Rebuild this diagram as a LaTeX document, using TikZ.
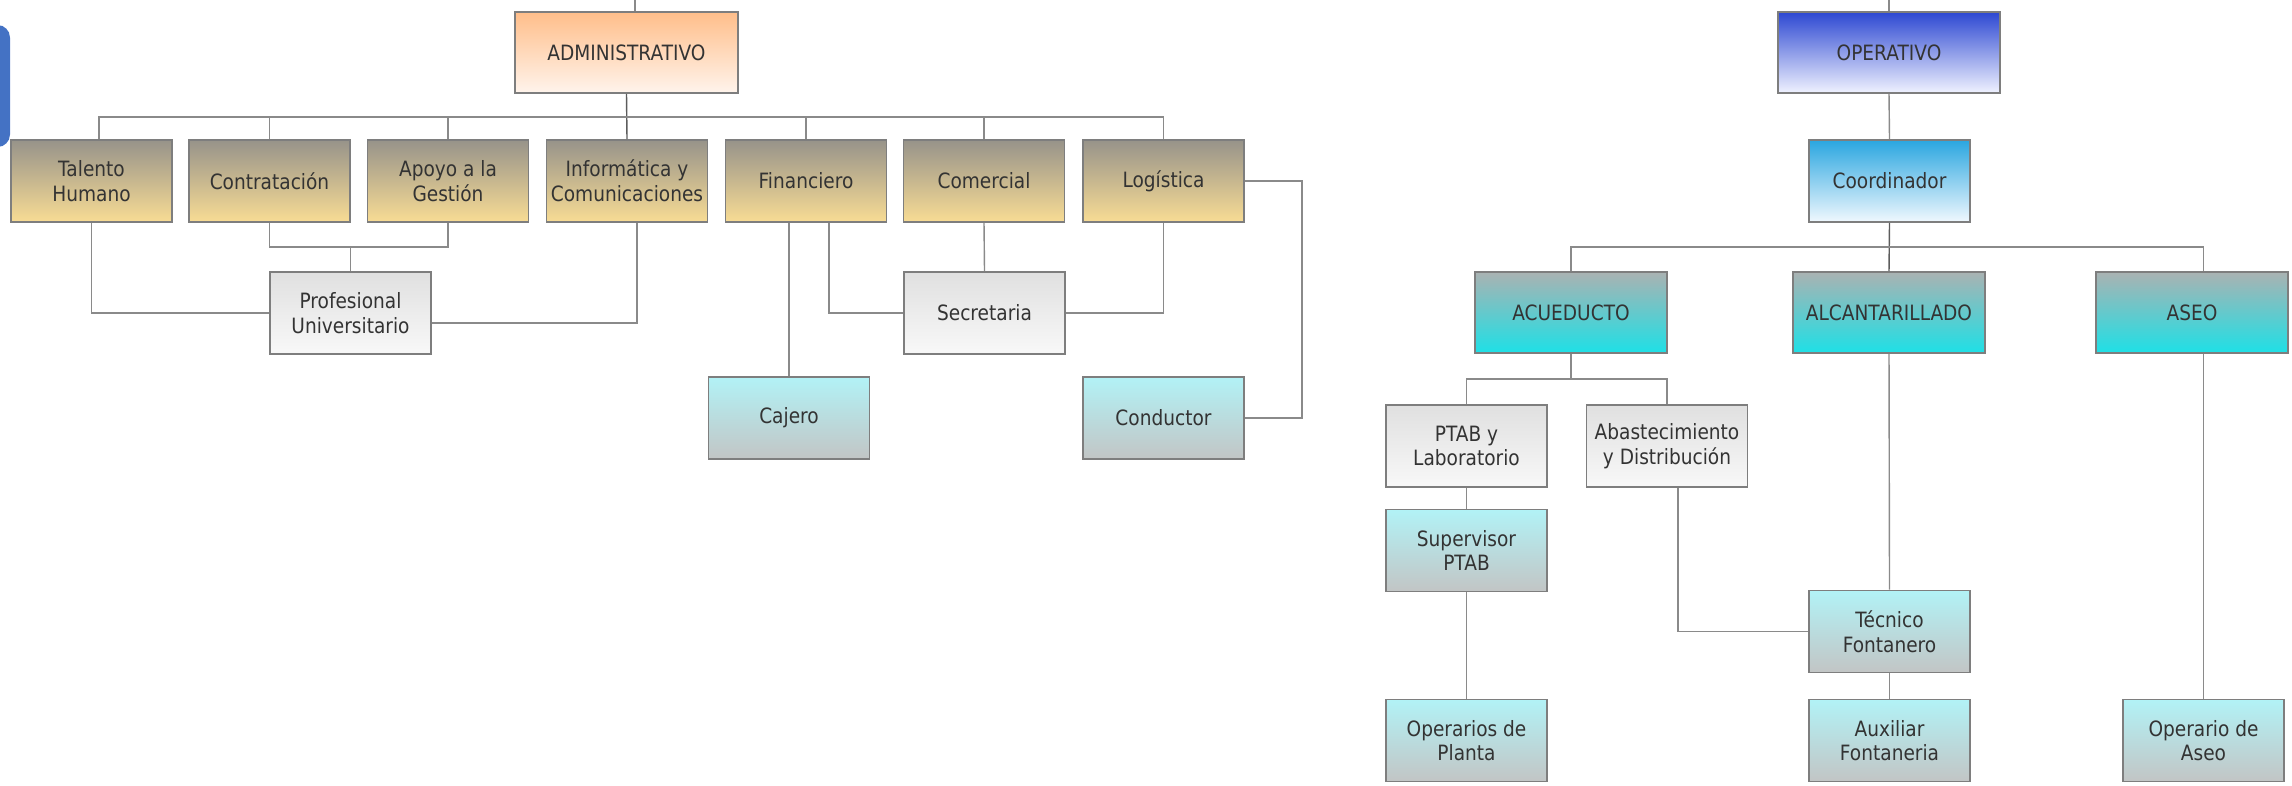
\documentclass[tikz,border=0pt]{standalone}
\usepackage{fontspec}
\setmainfont[FakeStretch=0.88]{DejaVu Sans}
\definecolor{orgline}{HTML}{8A8A8A}
\definecolor{orgborder}{HTML}{7E7E7E}
\definecolor{orgtext}{HTML}{333333}
\definecolor{tabblue}{HTML}{4472C4}
\definecolor{admintop}{HTML}{FFBE8A}
\definecolor{adminbot}{HTML}{FFF4EC}
\definecolor{goldtop}{HTML}{97938A}
\definecolor{goldbot}{HTML}{F8DC94}
\definecolor{greytop}{HTML}{E0E0E0}
\definecolor{greybot}{HTML}{F8F8F8}
\definecolor{aquatop}{HTML}{B2F2F6}
\definecolor{aquabot}{HTML}{C2C5C5}
\definecolor{opertop}{HTML}{2D48D2}
\definecolor{operbot}{HTML}{F0F2FF}
\definecolor{coordtop}{HTML}{2AA6E0}
\definecolor{coordbot}{HTML}{F0F8FE}
\definecolor{servtop}{HTML}{AAB2B2}
\definecolor{servbot}{HTML}{1EE0E6}

\begin{document}
\begin{tikzpicture}[x=0.02cm,y=-0.02cm,
    box/.style={draw=orgborder,line width=0.9pt,minimum width=3.22cm,minimum height=1.64cm,
      inner sep=0pt,align=center,text=orgtext,font=\fontsize{12}{14}\selectfont},
    headbox/.style={box,minimum width=4.45cm,minimum height=1.62cm},
    areabox/.style={box,top color=goldtop,bottom color=goldbot},
    staffbox/.style={box,top color=greytop,bottom color=greybot},
    rolebox/.style={box,top color=aquatop,bottom color=aquabot},
    servbox/.style={box,minimum width=3.84cm,minimum height=1.62cm,top color=servtop,bottom color=servbot},
    link/.style={draw=orgline,line width=0.8pt}]
  \useasboundingbox (0,0) rectangle (2292,785);
  \fill[tabblue,rounded corners=0.25cm] (-30,25) rectangle (10,147);

  % administrativo
  \node[headbox,top color=admintop,bottom color=adminbot] (admin) at (626.5,52.5) {ADMINISTRATIVO};
  \node[areabox] (talento) at (91.5,181) {Talento\\Humano};
  \node[areabox] (contratacion) at (269.5,181) {Contratación};
  \node[areabox] (apoyo) at (448,181) {Apoyo a la\\Gestión};
  \node[areabox] (informatica) at (627,181) {Informática y\\Comunicaciones};
  \node[areabox] (financiero) at (806,181) {Financiero};
  \node[areabox] (comercial) at (984,181) {Comercial};
  \node[areabox] (logistica) at (1163.5,181) {Logística};
  \node[staffbox] (profesional) at (350.5,313) {Profesional\\Universitario};
  \node[staffbox] (secretaria) at (984.5,313) {Secretaria};
  \node[rolebox] (cajero) at (789,418) {Cajero};
  \node[rolebox] (conductor) at (1163.5,418) {Conductor};

  % operativo
  \node[headbox,top color=opertop,bottom color=operbot] (operativo) at (1889,52.5) {OPERATIVO};
  \node[box,top color=coordtop,bottom color=coordbot] (coordinador) at (1889.5,181) {Coordinador};
  \node[servbox] (acueducto) at (1571,312.5) {ACUEDUCTO};
  \node[servbox] (alcantarillado) at (1889,312.5) {ALCANTARILLADO};
  \node[servbox] (aseo) at (2192,312.5) {ASEO};
  \node[staffbox] (ptab) at (1466.5,446) {PTAB y\\Laboratorio};
  \node[staffbox] (abastecimiento) at (1667,446) {Abastecimiento\\y Distribución};
  \node[rolebox] (supervisor) at (1466.5,550.5) {Supervisor\\PTAB};
  \node[rolebox] (tecnico) at (1889.5,631.5) {Técnico\\Fontanero};
  \node[rolebox] (operarios) at (1466.5,740.5) {Operarios de\\Planta};
  \node[rolebox] (auxiliar) at (1889.5,740.5) {Auxiliar\\Fontaneria};
  \node[rolebox] (opaseo) at (2203.5,740.5) {Operario de\\Aseo};

  \coordinate (topedge) at (0,0);
  \coordinate (busA) at (0,117);
  \coordinate (bracketA) at (0,247);
  \coordinate (logside) at (1302,181);
  \coordinate (busO) at (0,247);
  \coordinate (bracketO) at (0,379);

  % connectors, administrativo
  \draw[link] ([xshift=0.17cm]admin.north) -- ([xshift=0.17cm]admin.north |- topedge);
  \draw[link,draw=orgtext!80] (admin.south) -- (informatica.north);
  \draw[link] ([xshift=0.15cm]talento.north) |- (logistica.north |- busA) -- (logistica.north);
  \foreach \n in {contratacion,apoyo,financiero,comercial}
    \draw[link] (\n.north) -- (\n.north |- busA);
  \draw[link] (contratacion.south) |- (apoyo.south |- bracketA) -- (apoyo.south);
  \draw[link] (profesional.north) -- (profesional.north |- bracketA);
  \draw[link] (talento.south) |- (profesional.west);
  \draw[link] ([xshift=0.2cm]informatica.south) |- ([yshift=-0.2cm]profesional.east);
  \draw[link] (cajero.north) -- (cajero.north |- financiero.south);
  \draw[link] ([xshift=0.46cm]financiero.south) |- (secretaria.west);
  \draw[link] (comercial.south) -- (secretaria.north);
  \draw[link] (logistica.south) |- (secretaria.east);
  \draw[link] (logistica.east) -- (logside) |- (conductor.east);

  % connectors, operativo
  \draw[link] (operativo.north) -- (operativo.north |- topedge);
  \draw[link] (operativo.south) -- (coordinador.north);
  \draw[link,draw=orgtext!80] (coordinador.south) -- (alcantarillado.north);
  \draw[link] (acueducto.north) |- (opaseo.north |- busO) -- (opaseo.north |- aseo.north);
  \draw[link] (acueducto.south) -- (acueducto.south |- bracketO);
  \draw[link] (ptab.north) |- (abastecimiento.north |- bracketO) -- (abastecimiento.north);
  \draw[link] (ptab.south) -- (supervisor.north);
  \draw[link] (supervisor.south) -- (operarios.north);
  \draw[link] ([xshift=0.22cm]abastecimiento.south) |- (tecnico.west);
  \draw[link] (alcantarillado.south) -- (tecnico.north);
  \draw[link] (tecnico.south) -- (auxiliar.north);
  \draw[link] (opaseo.north) -- (opaseo.north |- aseo.south);
\end{tikzpicture}
\end{document}
